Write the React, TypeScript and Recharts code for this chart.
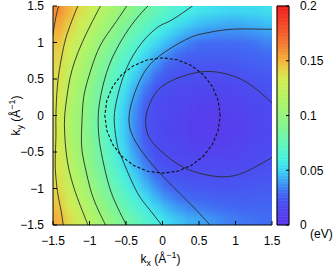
import React from 'react';
import { ComposedChart, XAxis, YAxis, Line, ReferenceArea, Label } from 'recharts';

// ---------- data ----------
const axisTicks = [-1.5, -1, -0.5, 0, 0.5, 1, 1.5];
const cbTicks = [0, 0.05, 0.1, 0.15, 0.2];

const kxCenters = [-1.425, -1.275, -1.125, -0.975, -0.825, -0.675, -0.525, -0.375, -0.225, -0.075,
  0.075, 0.225, 0.375, 0.525, 0.675, 0.825, 0.975, 1.125, 1.275, 1.425];
const kyCenters = [1.425, 1.275, 1.125, 0.975, 0.825, 0.675, 0.525, 0.375, 0.225, 0.075,
  -0.075, -0.225, -0.375, -0.525, -0.675, -0.825, -0.975, -1.125, -1.275, -1.425];

// energy in meV, rows follow kyCenters, columns follow kxCenters
const energyMeV = [
  [161, 150, 139, 128, 118, 108, 99, 90, 83, 75, 69, 64, 59, 56, 54, 52, 51, 52, 52, 54],
  [155, 144, 133, 122, 111, 101, 92, 83, 75, 67, 61, 55, 51, 47, 45, 44, 43, 44, 45, 47],
  [151, 139, 127, 116, 105, 95, 85, 76, 67, 59, 52, 47, 42, 39, 37, 36, 36, 37, 38, 40],
  [146, 134, 122, 111, 99, 89, 78, 68, 59, 51, 44, 38, 33, 30, 29, 29, 29, 30, 31, 34],
  [142, 130, 118, 106, 94, 83, 72, 62, 52, 43, 36, 30, 26, 26, 26, 26, 26, 27, 28, 29],
  [140, 126, 114, 101, 89, 77, 66, 55, 45, 36, 27, 24, 23, 23, 22, 22, 23, 24, 25, 26],
  [138, 123, 110, 97, 85, 73, 61, 49, 39, 29, 23, 21, 20, 19, 19, 19, 20, 21, 22, 23],
  [137, 120, 107, 94, 81, 69, 56, 44, 33, 22, 20, 18, 17, 16, 16, 16, 16, 18, 19, 21],
  [136, 118, 105, 92, 79, 66, 53, 40, 28, 20, 18, 16, 14, 13, 12, 13, 13, 15, 17, 19],
  [136, 116, 103, 90, 77, 64, 50, 37, 24, 18, 16, 14, 12, 10, 9, 9, 11, 13, 15, 17],
  [136, 116, 102, 89, 76, 62, 49, 36, 23, 18, 15, 13, 10, 8, 6, 6, 9, 11, 14, 16],
  [136, 116, 102, 89, 76, 62, 49, 36, 23, 18, 15, 13, 10, 8, 6, 6, 9, 11, 14, 16],
  [136, 116, 103, 90, 77, 64, 50, 37, 24, 18, 16, 14, 12, 10, 9, 9, 11, 13, 15, 17],
  [136, 118, 105, 92, 79, 66, 53, 40, 28, 20, 18, 16, 14, 13, 12, 13, 13, 15, 17, 19],
  [137, 120, 107, 94, 81, 69, 56, 44, 33, 22, 20, 18, 17, 16, 16, 16, 16, 17, 18, 20],
  [138, 123, 110, 97, 85, 73, 61, 49, 39, 29, 23, 21, 20, 19, 19, 19, 20, 20, 21, 22],
  [140, 126, 114, 101, 89, 77, 66, 55, 45, 36, 27, 25, 23, 23, 22, 22, 22, 23, 23, 24],
  [143, 130, 118, 106, 94, 83, 72, 62, 52, 43, 36, 31, 28, 27, 26, 25, 25, 25, 26, 26],
  [147, 134, 122, 111, 99, 89, 78, 68, 59, 51, 44, 39, 35, 33, 31, 30, 29, 28, 28, 28],
  [152, 139, 127, 116, 105, 95, 85, 76, 67, 59, 52, 47, 43, 41, 38, 35, 33, 32, 31, 30],
];

type P = { x: number; y: number };
const pts = (a: number[][]): P[] => a.map(([x, y]) => ({ x, y }));

// iso-energy contours (0.02 eV steps)
const contour020 = pts([[1.56, 0.10], [1.49, 0.18], [1.19, 0.43], [0.87, 0.57], [0.55, 0.60], [0.2, 0.51], [-0.05, 0.36], [-0.17, 0.17], [-0.23, -0.05], [-0.2, -0.26], [-0.08, -0.43], [0.2, -0.66], [0.5, -0.79], [0.82, -0.84], [1.14, -0.77], [1.49, -0.58], [1.56, -0.54]]);
const contour040 = pts([[1.56, 1.18], [1.2, 1.185], [0.87, 1.175], [0.55, 1.12], [0.32, 1.04], [-0.05, 0.81], [-0.28, 0.54], [-0.41, 0.22], [-0.46, -0.05], [-0.4, -0.3], [-0.2, -0.6], [0.09, -0.92], [0.41, -1.24], [0.64, -1.49], [0.7, -1.58]]);
const contour060 = pts([[0.5, 1.56], [0.41, 1.5], [0.13, 1.31], [-0.05, 1.22], [-0.28, 1.0], [-0.5, 0.63], [-0.63, 0.2], [-0.66, -0.1], [-0.62, -0.4], [-0.55, -0.6], [-0.37, -1.01], [-0.2, -1.26], [-0.02, -1.49], [0.03, -1.56]]);
const contour080 = pts([[-0.12, 1.56], [-0.2, 1.5], [-0.37, 1.31], [-0.55, 1.05], [-0.73, 0.69], [-0.84, 0.3], [-0.88, 0.0], [-0.87, -0.3], [-0.82, -0.6], [-0.73, -0.97], [-0.62, -1.25], [-0.5, -1.49], [-0.45, -1.56]]);
const contour100 = pts([[-0.45, 1.56], [-0.49, 1.5], [-0.66, 1.25], [-0.83, 1.0], [-0.94, 0.75], [-1.02, 0.5], [-1.08, 0.25], [-1.1, 0.0], [-1.11, -0.25], [-1.1, -0.5], [-1.05, -0.75], [-0.99, -1.0], [-0.9, -1.25], [-0.78, -1.5], [-0.75, -1.56]]);
const contour120 = pts([[-0.81, 1.56], [-0.85, 1.5], [-0.98, 1.25], [-1.1, 1.0], [-1.2, 0.75], [-1.27, 0.5], [-1.31, 0.25], [-1.34, 0.0], [-1.34, -0.25], [-1.32, -0.5], [-1.28, -0.75], [-1.21, -1.0], [-1.12, -1.25], [-1.02, -1.5], [-0.99, -1.56]]);
const contour140 = pts([[-1.12, 1.56], [-1.16, 1.5], [-1.26, 1.25], [-1.34, 1.0], [-1.4, 0.7], [-1.44, 0.4], [-1.46, 0.0], [-1.46, -0.3], [-1.47, -0.6], [-1.46, -0.85], [-1.43, -1.1], [-1.39, -1.3], [-1.36, -1.5], [-1.35, -1.56]]);
const contour160 = pts([[-1.38, 1.56], [-1.42, 1.5], [-1.46, 1.35], [-1.5, 1.12], [-1.53, 0.95]]);

// dashed circle (k ~ 0.79 1/A around origin)
const dashedCircle = pts([[0.79, 0], [0.763, 0.204], [0.684, 0.395], [0.559, 0.559], [0.395, 0.684], [0.204, 0.763], [0, 0.79], [-0.204, 0.763], [-0.395, 0.684], [-0.559, 0.559], [-0.684, 0.395], [-0.763, 0.204], [-0.79, 0], [-0.763, -0.204], [-0.684, -0.395], [-0.559, -0.559], [-0.395, -0.684], [-0.204, -0.763], [0, -0.79], [0.204, -0.763], [0.395, -0.684], [0.559, -0.559], [0.684, -0.395], [0.763, -0.204]]);

const contours = [contour020, contour040, contour060, contour080, contour100, contour120, contour140, contour160];

// colour bar levels (eV)
const cbLevels: number[] = [];
for (let i = 0; i < 80; i++) cbLevels.push(i * 0.0025);

// ---------- style ----------
const FONT = '"Liberation Sans", Arial, Helvetica, sans-serif';
const cmapStops: number[][] = [
  [0.0, 92, 56, 236],
  [0.01, 84, 64, 238],
  [0.02, 74, 78, 240],
  [0.03, 64, 108, 243],
  [0.04, 60, 160, 245],
  [0.05, 60, 212, 245],
  [0.06, 72, 240, 225],
  [0.075, 100, 245, 185],
  [0.09, 130, 245, 145],
  [0.11, 168, 245, 108],
  [0.135, 215, 235, 80],
  [0.15, 245, 180, 60],
  [0.165, 245, 125, 50],
  [0.18, 245, 80, 40],
  [0.2, 240, 30, 30],
];
function colorOf(v: number): string {
  const s = cmapStops;
  if (v <= s[0][0]) return `rgb(${s[0][1]},${s[0][2]},${s[0][3]})`;
  for (let i = 1; i < s.length; i++) {
    if (v <= s[i][0]) {
      const t = (v - s[i - 1][0]) / (s[i][0] - s[i - 1][0]);
      const c = [1, 2, 3].map((k) => Math.round(s[i - 1][k] + t * (s[i][k] - s[i - 1][k])));
      return `rgb(${c[0]},${c[1]},${c[2]})`;
    }
  }
  const l = s[s.length - 1];
  return `rgb(${l[1]},${l[2]},${l[3]})`;
}

const fmtTick = (v: number) => (v < 0 ? `\u2212${Math.abs(v)}` : `${v}`);
const tickStyle = { fill: '#000', fontSize: 12, fontFamily: FONT };

const XTitle = (props: any) => {
  const vb = props.viewBox || { x: 53, y: 225, width: 219, height: 30 };
  return (
    <text x={vb.x + vb.width / 2 - 2} y={vb.y + 38} textAnchor="middle" fontSize={12} fontFamily={FONT} fill="#000">
      k<tspan fontSize={9} dy={3}>x</tspan>
      <tspan dy={-3}> (Å</tspan>
      <tspan fontSize={9} dy={-5}>{'\u22121'}</tspan>
      <tspan dy={5}>)</tspan>
    </text>
  );
};

const YTitle = (props: any) => {
  const vb = props.viewBox || { x: 8, y: 6, width: 45, height: 219 };
  const cx = vb.x + 12;
  const cy = vb.y + vb.height / 2;
  return (
    <text x={cx} y={cy} transform={`rotate(-90, ${cx}, ${cy})`} textAnchor="middle" fontSize={12} fontFamily={FONT} fill="#000">
      k<tspan fontSize={9} dy={3}>y</tspan>
      <tspan dy={-3}> (Å</tspan>
      <tspan fontSize={9} dy={-5}>{'\u22121'}</tspan>
      <tspan dy={5}>)</tspan>
    </text>
  );
};

const EvLabel = (props: any) => {
  const vb = props.viewBox || { x: 289, y: 6, width: 44, height: 219 };
  return (
    <text x={vb.x + 21} y={vb.y + vb.height + 13} fontSize={12} fontFamily={FONT} fill="#000">
      (eV)
    </text>
  );
};

const PLOT = { left: 53, top: 6, size: 219 };
const PAD = 24;

export default function App() {
  const hx = (kxCenters[1] - kxCenters[0]) / 2;
  const hy = (kyCenters[0] - kyCenters[1]) / 2;
  const ext = 0.4; // edge cells are stretched past the frame so the soft filter keeps edges full
  const nC = kxCenters.length;
  const nR = kyCenters.length;

  const cells = kyCenters.flatMap((ky, r) =>
    kxCenters.map((kx, c) => {
      const col = colorOf(energyMeV[r][c] / 1000);
      return (
        <ReferenceArea
          key={`c${r}-${c}`}
          xAxisId="hx"
          yAxisId="hy"
          x1={kx - hx - (c === 0 ? ext : 0)}
          x2={kx + hx + (c === nC - 1 ? ext : 0)}
          y1={ky - hy - (r === nR - 1 ? ext : 0)}
          y2={ky + hy + (r === 0 ? ext : 0)}
          fill={col}
          fillOpacity={1}
          stroke={col}
          strokeWidth={0.8}
          ifOverflow="visible"
        />
      );
    })
  );

  const slices = cbLevels.map((v, i) => {
    const col = colorOf(v + 0.00125);
    return (
      <ReferenceArea
        key={`s${i}`}
        xAxisId="cx"
        yAxisId="cy"
        x1={0}
        x2={1}
        y1={v}
        y2={v + 0.0025}
        fill={col}
        fillOpacity={1}
        stroke={col}
        strokeWidth={0.6}
        ifOverflow="visible"
      />
    );
  });

  return (
    <div style={{ position: 'relative', width: 333, height: 271, fontFamily: FONT }}>
      <style>{'body{margin:0;}'}</style>
      {/* heat map layer */}
      <div
        style={{
          position: 'absolute',
          left: PLOT.left,
          top: PLOT.top,
          width: PLOT.size,
          height: PLOT.size,
          overflow: 'hidden',
        }}
      >
        <div style={{ position: 'absolute', left: -PAD, top: -PAD, filter: 'blur(3.5px)' }}>
          <ComposedChart
            width={PLOT.size + 2 * PAD}
            height={PLOT.size + 2 * PAD}
            margin={{ top: PAD, right: PAD, bottom: PAD, left: PAD }}
          >
            <XAxis xAxisId="hx" type="number" dataKey="x" domain={[-1.5, 1.5]} allowDataOverflow hide />
            <YAxis yAxisId="hy" type="number" domain={[-1.5, 1.5]} allowDataOverflow hide />
            {cells}
          </ComposedChart>
        </div>
      </div>
      {/* axes, contours */}
      <div style={{ position: 'absolute', left: 0, top: 0 }}>
        <ComposedChart width={333} height={271} margin={{ top: 6, right: 61, bottom: 16, left: 8 }}>
          {contours.map((c, i) => (
            <Line
              key={`ct${i}`}
              data={c}
              dataKey="y"
              xAxisId="b"
              yAxisId="l"
              type="natural"
              dot={false}
              activeDot={false}
              stroke="#2a2a2a"
              strokeWidth={0.9}
              isAnimationActive={false}
            />
          ))}
          <Line
            data={dashedCircle}
            dataKey="y"
            xAxisId="b"
            yAxisId="l"
            type="linearClosed"
            dot={false}
            activeDot={false}
            stroke="#111"
            strokeWidth={1.1}
            strokeDasharray="3 2"
            isAnimationActive={false}
          />
          <XAxis
            xAxisId="b"
            dataKey="x"
            type="number"
            domain={[-1.5, 1.5]}
            ticks={axisTicks}
            interval={0}
            allowDataOverflow
            height={30}
            tickSize={-4}
            tickMargin={15}
            stroke="#000"
            tick={tickStyle}
            tickFormatter={fmtTick}
            label={<Label content={XTitle} />}
          />
          <XAxis
            xAxisId="t"
            orientation="top"
            dataKey="x"
            type="number"
            domain={[-1.5, 1.5]}
            ticks={axisTicks}
            interval={0}
            allowDataOverflow
            height={0}
            tickSize={-4}
            tick={false}
            stroke="#000"
          />
          <YAxis
            yAxisId="l"
            type="number"
            domain={[-1.5, 1.5]}
            ticks={axisTicks}
            interval={0}
            allowDataOverflow
            width={45}
            tickSize={-4}
            tickMargin={13}
            stroke="#000"
            tick={tickStyle}
            tickFormatter={fmtTick}
            label={<Label content={YTitle} />}
          />
          <YAxis
            yAxisId="r"
            orientation="right"
            type="number"
            domain={[-1.5, 1.5]}
            ticks={axisTicks}
            interval={0}
            allowDataOverflow
            width={0}
            tickSize={-4}
            tick={false}
            stroke="#000"
          />
        </ComposedChart>
      </div>
      {/* colour bar */}
      <div style={{ position: 'absolute', left: 0, top: 0 }}>
        <ComposedChart width={333} height={271} margin={{ top: 6, right: 0, bottom: 46, left: 277 }}>
          <XAxis xAxisId="cx" type="number" dataKey="x" domain={[0, 1]} allowDataOverflow hide />
          <YAxis
            yAxisId="cy"
            orientation="right"
            type="number"
            domain={[0, 0.2]}
            allowDataOverflow
            ticks={cbTicks}
            interval={0}
            width={44}
            tickSize={-3}
            tickMargin={14}
            axisLine={false}
            stroke="#000"
            tick={tickStyle}
            tickFormatter={(v: number) => `${v}`}
            label={<Label content={EvLabel} />}
          />
          {slices}
          <ReferenceArea xAxisId="cx" yAxisId="cy" x1={0} x2={1} y1={0} y2={0.2} fill="none" fillOpacity={0} stroke="#000" strokeWidth={1} ifOverflow="visible" />
        </ComposedChart>
      </div>
    </div>
  );
}
